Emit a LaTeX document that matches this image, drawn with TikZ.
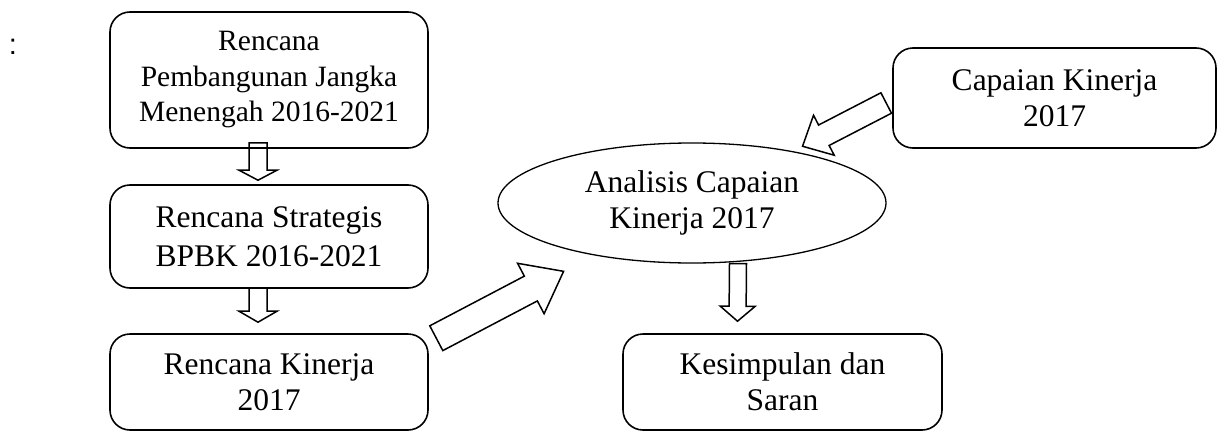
\documentclass[tikz,border=0pt]{standalone}
\usepackage{fontspec}
\setmainfont{Liberation Serif}
\newfontfamily\sansfont{Liberation Sans}
\usepackage{tikz}
\usetikzlibrary{shapes.geometric, calc}

\tikzset{
  box/.style={draw, line width=1.6pt, rounded corners=20pt, align=center,
              font=\fontsize{31.5}{36}\selectfont},
  oval/.style={draw, ellipse, line width=1.3pt, align=center, inner sep=0pt,
               font=\fontsize{31.5}{36}\selectfont},
  blockline/.style={draw, line width=1.5pt, line join=miter}
}

% block arrow: tail, tip, half shaft, half head, head length
\newcommand{\blockarrow}[5]{%
  \coordinate (ba-h) at ($(#2)!#5!(#1)$);
  \draw[blockline] ($(#1)!#3!90:(#2)$) -- ($(ba-h)!#3!90:(#2)$)
    -- ($(ba-h)!#4!90:(#2)$) -- (#2) -- ($(ba-h)!#4!-90:(#2)$)
    -- ($(ba-h)!#3!-90:(#2)$) -- ($(#1)!#3!-90:(#2)$) -- cycle;
}

\begin{document}
\begin{tikzpicture}[x=1pt, y=-1pt]
\useasboundingbox (0,0) rectangle (1218,431);

\node [font=\sansfont\fontsize{29}{35}\selectfont] (colon) at (13,47) {:};

\node [box, font=\fontsize{29.5}{35.5}\selectfont, minimum width=318pt, minimum height=136pt] (rpjm) at (269,80) {Rencana\\Pembangunan Jangka\\Menengah 2016-2021};
\node [box, font=\fontsize{31.5}{39}\selectfont, minimum width=318pt, minimum height=103pt] (renstra) at (269,236.5) {Rencana Strategis\\BPBK 2016-2021};
\node [box, minimum width=318pt, minimum height=96pt] (renkin) at (269,382) {Rencana Kinerja\\2017};

\node [oval, minimum width=388pt, minimum height=120pt] (analisis) at (692,203) {Analisis Capaian\\Kinerja 2017};

\node [box, minimum width=323pt, minimum height=100pt] (capaian) at (1054.5,98) {Capaian Kinerja\\2017};
\node [box, minimum width=319pt, minimum height=96pt] (simpulan) at (782.5,382) {Kesimpulan dan\\Saran};

% ends of the block arrows
\coordinate (a1) at ([xshift=-11pt,yshift=6pt]rpjm.south);
\coordinate (b1) at ([xshift=-11pt,yshift=4pt]renstra.north);
\coordinate (a2) at ([xshift=-11pt,yshift=1pt]renstra.south);
\coordinate (b2) at ([xshift=-11pt,yshift=11pt]renkin.north);
\coordinate (a3) at ([xshift=46pt]analisis.south);
\coordinate (b3) at ([xshift=-45pt,yshift=12pt]simpulan.north);
\coordinate (a4) at ([xshift=7.5pt,yshift=-5pt]renkin.north east);
\coordinate (b4) at ([xshift=-30pt,yshift=-16pt]analisis.208);
\coordinate (a5) at ([xshift=-6pt,yshift=-5pt]capaian.west);
\coordinate (b5) at ([xshift=9pt,yshift=5pt]analisis.27);

\foreach \s/\t/\w/\hw/\hl in {a1/b1/9pt/19pt/10pt,
                              a2/b2/9pt/19pt/11pt,
                              a3/b3/8.5pt/17.5pt/15pt,
                              a4/b4/14pt/28.5pt/37pt,
                              a5/b5/11.5pt/22.5pt/24pt}
    {\blockarrow{\s}{\t}{\w}{\hw}{\hl}}

\end{tikzpicture}
\end{document}
